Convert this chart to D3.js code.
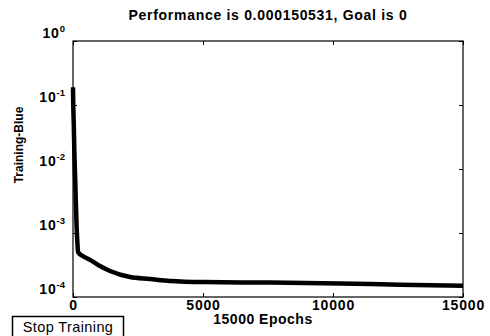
<!DOCTYPE html>
<html>
<head>
<meta charset="utf-8">
<script src="https://cdn.jsdelivr.net/npm/d3@7/dist/d3.min.js"></script>
<style>
  html, body { margin: 0; padding: 0; background: #fff; }
  svg { display: block; font-family: 'Liberation Sans', Arial, sans-serif; }
</style>
</head>
<body>
<svg id="chart" width="490" height="336"></svg>
<script>
'use strict';

// training record (epoch, performance)
var epochs = [0, 10, 30, 50, 80, 110, 140, 170, 192, 400, 654, 1000, 1423, 2192, 2962, 3731, 5000, 7577, 10270, 12577, 15000];
var performance = [0.19, 0.1, 0.05, 0.02, 0.008, 0.003, 0.0012, 0.0007, 0.000505, 0.00043, 0.00038, 0.00031, 0.000255,
  0.000205, 0.000191, 0.000178, 0.000171, 0.000168, 0.000163, 0.000155, 0.000150531];
var xTicks = [0, 5000, 10000, 15000];
var yTicks = [1, 0.1, 0.01, 0.001, 0.0001];
var yExponents = ['0', '-1', '-2', '-3', '-4'];
var titleText = 'Performance is 0.000150531, Goal is 0';
var xLabelText = '15000 Epochs';
var yLabelText = 'Training-Blue';
var buttonText = 'Stop Training';

var plotLeft = 73, plotRight = 463, plotTop = 41, plotBottom = 297;
var svg = d3.select('#chart');

var x = d3.scaleLinear().domain([0, 15000]).range([plotLeft, plotRight]);
var y = d3.scaleLog().domain([1e-4, 1]).range([plotBottom, plotTop]);

function drawAxes() {
  var xAxis = d3.axisBottom(x).tickValues(xTicks).tickSizeInner(-4).tickSizeOuter(0).tickPadding(3)
    .tickFormat(d3.format('d'));
  var gx = svg.append('g')
    .attr('transform', 'translate(0,' + plotBottom + ')')
    .call(xAxis);
  gx.selectAll('text')
    .attr('font-size', 14)
    .attr('font-weight', 'bold')
    .attr('letter-spacing', 0.8)
    .attr('fill', '#000');

  var yAxis = d3.axisLeft(y).tickValues(yTicks).tickSizeInner(-4).tickSizeOuter(0).tickPadding(8);
  var gy = svg.append('g')
    .attr('transform', 'translate(' + plotLeft + ',0)')
    .call(yAxis);
  gy.selectAll('text')
    .text(null)
    .attr('dy', '-0.25em')
    .attr('font-size', 14)
    .attr('font-weight', 'bold')
    .attr('letter-spacing', 0.8)
    .attr('fill', '#000')
    .each(function(d, i) {
      var t = d3.select(this);
      t.append('tspan').text('10');
      t.append('tspan')
        .attr('dy', -6)
        .attr('font-size', 9.5)
        .attr('letter-spacing', 0)
        .text(yExponents[i]);
    });

  // mirrored ticks on the top and right edges
  svg.append('g')
    .attr('transform', 'translate(0,' + plotTop + ')')
    .call(d3.axisTop(x).tickValues(xTicks).tickSizeInner(-4).tickSizeOuter(0).tickFormat(''));
  svg.append('g')
    .attr('transform', 'translate(' + plotRight + ',0)')
    .call(d3.axisRight(y).tickValues(yTicks).tickSizeInner(-4).tickSizeOuter(0).tickFormat(''));

  svg.selectAll('.domain').remove();
  svg.selectAll('.tick line').attr('stroke', '#000');

  svg.append('rect')
    .attr('x', plotLeft)
    .attr('y', plotTop)
    .attr('width', plotRight - plotLeft)
    .attr('height', plotBottom - plotTop)
    .attr('fill', 'none')
    .attr('stroke', '#000')
    .attr('stroke-width', 1.2);
}

function drawCurve() {
  var pts = epochs.map(function(e, i) {
    return [e, performance[i]];
  });
  var line = d3.line()
    .x(function(d) { return x(d[0]); })
    .y(function(d) { return y(d[1]); })
    .curve(d3.curveMonotoneX);
  svg.append('path')
    .datum(pts)
    .attr('d', line)
    .attr('fill', 'none')
    .attr('stroke', '#000')
    .attr('stroke-width', 4.5)
    .attr('stroke-linejoin', 'round');
}

function drawTexts() {
  svg.append('text')
    .attr('x', 268)
    .attr('y', 20)
    .attr('text-anchor', 'middle')
    .attr('font-size', 14)
    .attr('font-weight', 'bold')
    .attr('letter-spacing', 0.7)
    .text(titleText);

  svg.append('text')
    .attr('x', 263)
    .attr('y', 324)
    .attr('text-anchor', 'middle')
    .attr('font-size', 14)
    .attr('font-weight', 'bold')
    .attr('letter-spacing', 0.5)
    .text(xLabelText);

  svg.append('text')
    .attr('transform', 'translate(23,145) rotate(-90)')
    .attr('text-anchor', 'middle')
    .attr('font-size', 12)
    .attr('font-weight', 'bold')
    .text(yLabelText);

  svg.append('rect')
    .attr('x', 12.5)
    .attr('y', 316.5)
    .attr('width', 111)
    .attr('height', 22)
    .attr('fill', '#fff')
    .attr('stroke', '#000')
    .attr('stroke-width', 1.5);
  svg.append('text')
    .attr('x', 68)
    .attr('y', 332)
    .attr('text-anchor', 'middle')
    .attr('font-size', 14.5)
    .attr('letter-spacing', 0.4)
    .text(buttonText);
}

drawAxes();
drawCurve();
drawTexts();
</script>
</body>
</html>
